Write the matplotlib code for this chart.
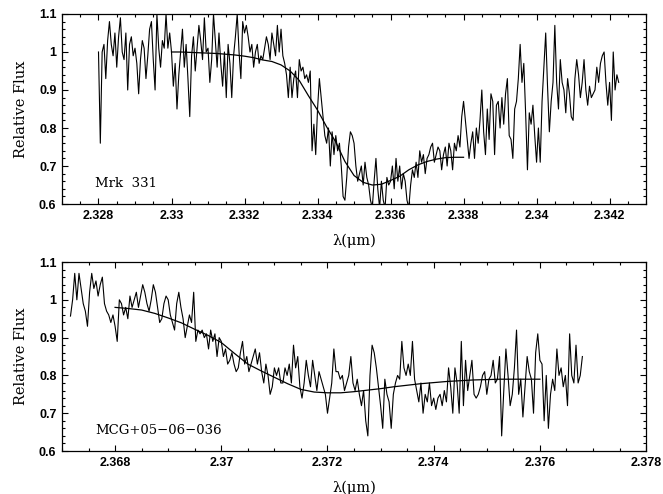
import numpy as np
import matplotlib
matplotlib.use("Agg")
import matplotlib.pyplot as plt
from matplotlib.ticker import MultipleLocator, FuncFormatter

# ---- Mrk 331 spectrum (2.3280 .. 2.34225 um, step 5e-5) ----
mrk_start = 2.3280
mrk_step = 0.00005
mrk_flux = [
    1.00, 0.76, 1.00, 1.02, 0.93, 1.03, 1.08, 1.02, 0.99, 1.05, 0.96, 1.04, 1.09, 1.00, 0.98, 1.05, 0.90, 1.02, 1.04, 0.99,
    1.01, 0.97, 0.89, 0.98, 1.03, 1.01, 0.93, 0.99, 1.06, 1.08, 0.98, 0.90, 1.10, 1.01, 0.96, 1.03, 1.01, 1.10, 1.01, 1.05,
    1.00, 0.91, 0.97, 0.85, 0.94, 1.00, 1.06, 0.96, 1.02, 0.93, 0.83, 0.99, 1.04, 0.95, 1.01, 1.07, 1.03, 0.98, 1.09, 1.00,
    1.01, 0.92, 0.98, 1.10, 1.03, 0.96, 1.05, 0.97, 0.91, 1.00, 0.88, 1.02, 0.97, 0.88, 0.99, 1.04, 1.10, 1.00, 0.93, 1.08,
    1.05, 1.07, 1.04, 1.00, 1.02, 0.96, 1.00, 1.02, 0.97, 0.99, 0.98, 1.01, 1.04, 1.02, 0.98, 1.05, 1.02, 0.99, 1.07, 1.00,
    1.06, 0.99, 0.97, 0.94, 0.88, 0.96, 0.88, 0.93, 0.95, 0.88, 0.98, 0.95, 0.96, 0.93, 0.94, 0.92, 0.95, 0.74, 0.81, 0.73,
    0.85, 0.93, 0.88, 0.83, 0.78, 0.76, 0.80, 0.70, 0.79, 0.73, 0.78, 0.74, 0.76, 0.70, 0.62, 0.61, 0.67, 0.75, 0.79, 0.78,
    0.76, 0.70, 0.66, 0.68, 0.70, 0.65, 0.71, 0.67, 0.65, 0.61, 0.59, 0.66, 0.72, 0.64, 0.59, 0.66, 0.61, 0.59, 0.67, 0.65,
    0.66, 0.70, 0.64, 0.72, 0.66, 0.70, 0.64, 0.68, 0.66, 0.61, 0.59, 0.65, 0.69, 0.67, 0.71, 0.67, 0.74, 0.71, 0.73, 0.68,
    0.72, 0.73, 0.75, 0.76, 0.71, 0.73, 0.75, 0.74, 0.69, 0.73, 0.75, 0.70, 0.76, 0.74, 0.69, 0.76, 0.74, 0.78, 0.75, 0.83,
    0.87, 0.82, 0.77, 0.72, 0.76, 0.79, 0.72, 0.80, 0.76, 0.82, 0.90, 0.79, 0.73, 0.85, 0.77, 0.89, 0.87, 0.73, 0.86, 0.87,
    0.80, 0.88, 0.81, 0.89, 0.93, 0.78, 0.77, 0.72, 0.85, 0.87, 0.93, 1.02, 0.92, 0.97, 0.84, 0.69, 0.84, 0.81, 0.86, 0.78,
    0.71, 0.80, 0.71, 0.87, 0.96, 1.05, 0.91, 0.79, 0.87, 0.92, 1.07, 0.92, 0.85, 0.98, 0.92, 0.90, 0.84, 0.93, 0.89, 0.83,
    0.82, 0.93, 0.98, 0.94, 0.88, 0.92, 0.98, 0.90, 0.86, 0.91, 0.88, 0.89, 0.90, 0.96, 0.92, 0.97, 0.99, 1.00, 0.92, 0.86,
    0.92, 0.82, 1.00, 0.90, 0.94, 0.92,
]

# fitted profile for Mrk 331 (2.330 .. 2.338, step 2.5e-4)
mrk_fit_start = 2.3300
mrk_fit_step = 0.00025
mrk_fit = [
    1.000, 1.000, 0.999, 0.998, 0.997, 0.996, 0.994, 0.992, 0.989, 0.985, 0.979,
    0.975, 0.966, 0.950, 0.925, 0.885, 0.847, 0.803, 0.763, 0.712, 0.675, 0.657,
    0.650, 0.652, 0.662, 0.673, 0.690, 0.703, 0.712, 0.718, 0.722, 0.723, 0.723,
]

# ---- MCG+05-06-036 spectrum (2.36716 .. 2.3768 um, step 4e-5) ----
mcg_start = 2.36716
mcg_step = 0.00004
mcg_flux = [
    0.957, 1.00, 1.07, 1.00, 1.07, 1.03, 0.99, 0.97, 0.93, 1.02, 1.07, 1.03, 1.05, 1.01, 1.04, 1.06, 0.99, 0.97, 0.96, 0.94, 0.96,
    0.93, 0.89, 1.00, 0.99, 0.96, 0.98, 0.95, 1.01, 0.98, 1.00, 1.02, 0.98, 1.01, 1.04, 1.02, 0.99, 0.97, 1.00, 1.04, 1.02, 0.98, 0.94, 0.95, 0.99, 1.01,
    1.00, 0.96, 0.94, 0.92, 0.99, 1.02, 0.98, 0.95, 0.90, 0.93, 0.96, 0.94, 1.02, 0.89, 0.92, 0.91, 0.92, 0.90, 0.91, 0.87, 0.92, 0.89, 0.91, 0.85, 0.90,
    0.89, 0.85, 0.87, 0.83, 0.84, 0.86, 0.83, 0.81, 0.82, 0.86, 0.89, 0.83, 0.85, 0.81, 0.83, 0.85, 0.87, 0.83, 0.86, 0.81, 0.78, 0.83, 0.80, 0.75, 0.77,
    0.82, 0.80, 0.82, 0.78, 0.78, 0.82, 0.80, 0.83, 0.78, 0.88, 0.82, 0.85, 0.77, 0.74, 0.78, 0.84, 0.80, 0.77, 0.84, 0.80, 0.76, 0.81, 0.79, 0.77, 0.75,
    0.70, 0.74, 0.78, 0.87, 0.81, 0.81, 0.79, 0.80, 0.76, 0.78, 0.80, 0.85, 0.78, 0.76, 0.79, 0.75, 0.72, 0.76, 0.68, 0.64, 0.80, 0.88, 0.86, 0.82, 0.77,
    0.72, 0.66, 0.79, 0.75, 0.73, 0.66, 0.75, 0.78, 0.80, 0.79, 0.89, 0.82, 0.80, 0.83, 0.80, 0.89, 0.79, 0.76, 0.73, 0.78, 0.70, 0.75, 0.73, 0.78, 0.72,
    0.74, 0.71, 0.74, 0.75, 0.72, 0.76, 0.73, 0.82, 0.77, 0.70, 0.82, 0.78, 0.70, 0.89, 0.72, 0.84, 0.76, 0.80, 0.84, 0.75, 0.74, 0.75, 0.77, 0.80, 0.81,
    0.75, 0.79, 0.80, 0.84, 0.78, 0.79, 0.85, 0.64, 0.76, 0.87, 0.80, 0.72, 0.75, 0.82, 0.92, 0.75, 0.79, 0.69, 0.77, 0.85, 0.81, 0.79, 0.70, 0.86, 0.91,
    0.84, 0.83, 0.68, 0.80, 0.66, 0.75, 0.79, 0.76, 0.87, 0.80, 0.82, 0.77, 0.80, 0.72, 0.91, 0.80, 0.78, 0.88, 0.78, 0.80, 0.85,
]

# fitted profile for MCG+05-06-036 (2.368 .. 2.376, step 2.5e-4)
mcg_fit_start = 2.3680
mcg_fit_step = 0.00025
mcg_fit = [
    0.980, 0.977, 0.973, 0.964, 0.952, 0.939, 0.922, 0.906, 0.887, 0.858, 0.830,
    0.812, 0.795, 0.778, 0.763, 0.756, 0.754, 0.754, 0.757, 0.761, 0.765, 0.770,
    0.774, 0.778, 0.781, 0.784, 0.786, 0.788, 0.789, 0.790, 0.790, 0.790, 0.790,
]

panels = [
    (mrk_start, mrk_step, mrk_flux, mrk_fit_start, mrk_fit_step, mrk_fit,
     "Mrk  331", (2.327, 2.343), 2.3279),
    (mcg_start, mcg_step, mcg_flux, mcg_fit_start, mcg_fit_step, mcg_fit,
     "MCG+05\u221206\u2212036", (2.367, 2.378), 2.36763),
]

fig = plt.figure(figsize=(6.63, 4.94), dpi=100)
axes = [fig.add_axes([0.0935, 0.587, 0.881, 0.3847]),
        fig.add_axes([0.0935, 0.087, 0.881, 0.3826])]

serif = "DejaVu Serif"
fmt = FuncFormatter(lambda v, p: f"{round(v, 4):g}")

for ax, (s0, ds, flux, f0, fds, fit, name, xlim, tx) in zip(axes, panels):
    wl = s0 + ds * np.arange(len(flux))
    fwl = f0 + fds * np.arange(len(fit))
    ax.plot(wl, flux, color="black", lw=0.8)
    ax.plot(fwl, fit, color="black", lw=0.9)
    ax.set_xlim(*xlim)
    ax.set_ylim(0.6, 1.1)
    ax.xaxis.set_major_locator(MultipleLocator(0.002))
    ax.xaxis.set_minor_locator(MultipleLocator(0.0005))
    ax.yaxis.set_major_locator(MultipleLocator(0.1))
    ax.yaxis.set_minor_locator(MultipleLocator(0.02))
    ax.xaxis.set_major_formatter(fmt)
    ax.yaxis.set_major_formatter(fmt)
    ax.tick_params(which="both", direction="in", top=True, right=True,
                   width=0.8, labelsize=9)
    ax.tick_params(which="major", length=4.5, pad=4)
    ax.tick_params(which="minor", length=2.5)
    for lab in ax.get_xticklabels() + ax.get_yticklabels():
        lab.set_family("Liberation Sans")
        lab.set_fontweight("bold")
    for sp in ax.spines.values():
        sp.set_linewidth(0.9)
    ax.set_xlabel("\u03bb(\u03bcm)", fontsize=10.5, family=serif, labelpad=9)
    ax.set_ylabel("Relative Flux", fontsize=10.5, family=serif, labelpad=8)
    ax.text(tx, 0.655, name, fontsize=9.5, family=serif, va="center")

fig.savefig("out.png", dpi=100)
